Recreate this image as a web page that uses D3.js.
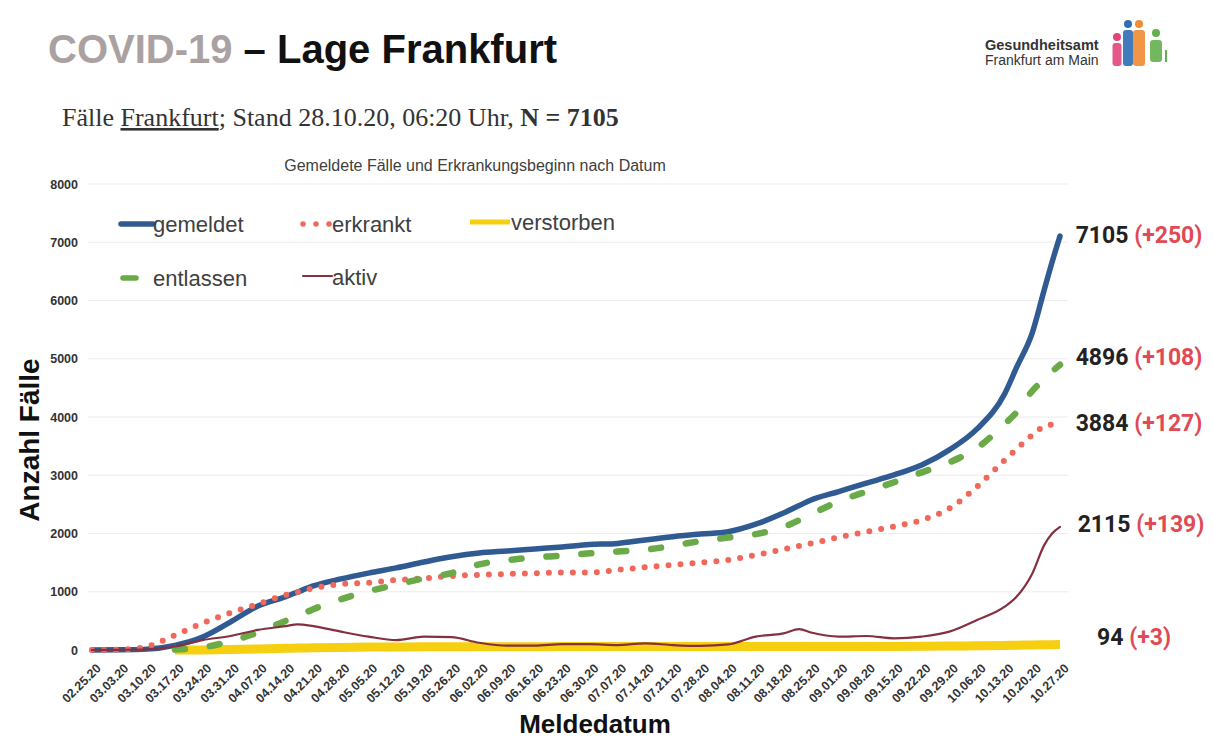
<!DOCTYPE html>
<html><head><meta charset="utf-8">
<script src="https://cdn.jsdelivr.net/npm/d3@7"></script>
<style>
html,body{margin:0;padding:0;background:#fff;}
svg{display:block;}
</style></head>
<body>
<svg id="chart" width="1213" height="741"></svg>
<script>
// ---- DATA ----
const dates = ["2020-02-25","2020-03-03","2020-03-10","2020-03-17","2020-03-24","2020-03-31","2020-04-07","2020-04-14","2020-04-17","2020-04-21","2020-04-28","2020-05-05","2020-05-12","2020-05-19","2020-05-26","2020-06-02","2020-06-09","2020-06-16","2020-06-23","2020-06-30","2020-07-07","2020-07-14","2020-07-21","2020-07-28","2020-08-04","2020-08-11","2020-08-18","2020-08-22","2020-08-25","2020-09-01","2020-09-08","2020-09-15","2020-09-22","2020-09-29","2020-10-06","2020-10-13","2020-10-16","2020-10-20","2020-10-23","2020-10-25","2020-10-27"];
const gemeldet   = [0,3,15,80,223,480,755,915,995,1100,1220,1320,1410,1510,1600,1665,1700,1735,1770,1810,1830,1890,1945,1990,2030,2160,2350,2480,2575,2720,2865,3005,3175,3435,3795,4400,4850,5450,6180,6660,7105];
const erkrankt   = [0,5,60,255,460,635,790,945,995,1060,1130,1155,1200,1230,1270,1290,1305,1315,1330,1330,1375,1420,1460,1500,1545,1630,1730,1785,1830,1935,2030,2120,2230,2430,2805,3260,3450,3690,3840,3870,3884];
const verstorben = [null,null,null,0,2,8,18,30,33,38,45,50,52,54,55,56,57,57,58,58,58,58,58,58,58,59,59,59,59,60,61,62,64,67,72,78,82,86,89,91,94];
const entlassen  = [null,null,null,8,45,150,300,500,580,700,870,1010,1120,1230,1320,1470,1540,1590,1620,1660,1690,1720,1790,1870,1930,1990,2110,2230,2330,2550,2720,2880,3050,3220,3470,3880,4080,4450,4650,4780,4896];
const aktiv      = [0,3,12,60,170,240,345,410,440,410,315,230,170,230,220,125,75,75,100,100,85,115,85,70,95,230,285,360,300,230,240,200,230,315,515,745,915,1315,1800,2000,2115];
const tickDates  = ["2020-02-25","2020-03-03","2020-03-10","2020-03-17","2020-03-24","2020-03-31","2020-04-07","2020-04-14","2020-04-21","2020-04-28","2020-05-05","2020-05-12","2020-05-19","2020-05-26","2020-06-02","2020-06-09","2020-06-16","2020-06-23","2020-06-30","2020-07-07","2020-07-14","2020-07-21","2020-07-28","2020-08-04","2020-08-11","2020-08-18","2020-08-25","2020-09-01","2020-09-08","2020-09-15","2020-09-22","2020-09-29","2020-10-06","2020-10-13","2020-10-20","2020-10-27"];
const yTicks = [0,1000,2000,3000,4000,5000,6000,7000,8000];
const seriesNames = ["gemeldet","erkrankt","verstorben","entlassen","aktiv"];
const endValues = [7105,4896,3884,2115,94];
const endDeltas = ["(+250)","(+108)","(+127)","(+139)","(+3)"];

// ---- SETUP ----
const svg = d3.select("#chart");
const parse = d3.timeParse("%Y-%m-%d");
const fmt = d3.timeFormat("%m.%d.%y");
const x = d3.scaleTime().domain([parse(dates[0]), parse(dates[dates.length-1])]).range([92,1060]);
const y = d3.scaleLinear().domain([0,8000]).range([650,184]);

// Titles
const t = svg.append("text").attr("x",48).attr("y",63)
  .style("font-family","Liberation Sans, Arial, sans-serif").style("font-weight","bold").style("font-size","40px");
t.append("tspan").attr("fill","#aaa2a2").text("COVID-19");
t.append("tspan").attr("fill","#111").text(" \u2013 Lage Frankfurt");

const st = svg.append("text").attr("x",62).attr("y",126)
  .style("font-family","Liberation Serif, Times New Roman, serif").style("font-size","26px").attr("fill","#333");
st.append("tspan").text("Fälle ");
st.append("tspan").style("text-decoration","underline").text("Frankfurt");
st.append("tspan").text("; Stand 28.10.20, 06:20 Uhr, ");
st.append("tspan").style("font-weight","bold").text("N = 7105");

// Logo
const lg = svg.append("g").style("font-family","Liberation Sans, Arial, sans-serif").attr("fill","#333");
lg.append("text").attr("x",985).attr("y",50).style("font-weight","bold").style("font-size","14.5px").text("Gesundheitsamt");
lg.append("text").attr("x",985).attr("y",65).style("font-size","14px").text("Frankfurt am Main");
const people = [
  {cx:1117,hy:37,top:43,bot:66,w:9,c:"#e0457c"},
  {cx:1128,hy:24,top:30,bot:66,w:10,c:"#2d6db5"},
  {cx:1139,hy:24,top:30,bot:66,w:12,c:"#f08a33"},
  {cx:1156,hy:33,top:40,bot:62,w:12,c:"#62b04d"}
];
people.forEach(p=>{
  lg.append("circle").attr("cx",p.cx).attr("cy",p.hy).attr("r",4).attr("fill",p.c);
  lg.append("rect").attr("x",p.cx-p.w/2).attr("y",p.top).attr("width",p.w).attr("height",p.bot-p.top).attr("rx",3).attr("fill",p.c).attr("opacity",0.9);
});
lg.append("rect").attr("x",1165).attr("y",50).attr("width",2).attr("height",12).attr("fill","#62b04d");

// Chart title
svg.append("text").attr("x",475).attr("y",171).attr("text-anchor","middle")
  .style("font-family","Liberation Sans, Arial, sans-serif").style("font-size","16px").attr("fill","#404040")
  .text("Gemeldete Fälle und Erkrankungsbeginn nach Datum");

// Grid
svg.append("g").selectAll("line").data(yTicks.filter(d=>d>0)).join("line")
  .attr("x1",88).attr("x2",1068).attr("y1",d=>y(d)).attr("y2",d=>y(d))
  .attr("stroke","#ececec").attr("stroke-width",1.2);

// Y axis
const yAxis = svg.append("g").attr("transform","translate(78,0)")
  .call(d3.axisLeft(y).tickValues(yTicks).tickSize(0).tickPadding(0).tickFormat(d3.format("d")));
yAxis.select(".domain").remove();
yAxis.selectAll("text").style("font-family","Liberation Sans, Arial, sans-serif").style("font-weight","bold")
  .style("font-size","12.5px").attr("fill","#333");

// X axis
const xAxis = svg.append("g").attr("transform","translate(0,650)")
  .call(d3.axisBottom(x).tickValues(tickDates.map(parse)).tickSize(0).tickFormat(fmt));
xAxis.select(".domain").remove();
xAxis.selectAll("text").attr("text-anchor","end").attr("dy",0)
  .attr("transform","translate(7,17) rotate(-45)")
  .style("font-family","Liberation Sans, Arial, sans-serif").style("font-weight","bold")
  .style("font-size","12.5px").attr("fill","#333");

// Axis titles
svg.append("text").attr("x",595).attr("y",733).attr("text-anchor","middle")
  .style("font-family","Liberation Sans, Arial, sans-serif").style("font-weight","bold").style("font-size","26px").attr("fill","#111")
  .text("Meldedatum");
svg.append("text").attr("transform","translate(39,440) rotate(-90)").attr("text-anchor","middle")
  .style("font-family","Liberation Sans, Arial, sans-serif").style("font-weight","bold").style("font-size","28px").attr("fill","#111")
  .text("Anzahl Fälle");

// Lines
const styles = {
  gemeldet:  {c:"#2f5b92", w:5.5, dash:null, cap:"round"},
  erkrankt:  {c:"#f0685c", w:6, dash:"0 12", cap:"round"},
  verstorben:{c:"#f5cf10", w:9, dash:null, cap:"butt"},
  entlassen: {c:"#6aaa48", w:6.5, dash:"10 25", cap:"round"},
  aktiv:     {c:"#84303f", w:2.2, dash:null, cap:"round"}
};
const seriesVals = {gemeldet, erkrankt, verstorben, entlassen, aktiv};
const line = d3.line().defined(d=>d.v!=null).x(d=>x(d.d)).y(d=>y(d.v)).curve(d3.curveMonotoneX);
seriesNames.forEach(name=>{
  const s = styles[name];
  const pts = dates.map((d,i)=>({d:parse(d), v:seriesVals[name][i]}));
  svg.append("path").datum(pts).attr("d",line).attr("fill","none")
    .attr("stroke",s.c).attr("stroke-width",s.w).attr("stroke-linecap",s.cap).attr("stroke-linejoin","round")
    .attr("stroke-dasharray",s.dash);
});

// Legend
const legend = [
  {name:"gemeldet", x1:121,x2:153, ly:224, tx:153, ty:232},
  {name:"erkrankt", x1:303,x2:330, ly:224, tx:332, ty:232},
  {name:"verstorben", x1:470,x2:510, ly:222, tx:511, ty:230},
  {name:"entlassen", x1:123,x2:136, ly:278, tx:153, ty:286},
  {name:"aktiv", x1:303,x2:332, ly:276, tx:332, ty:285}
];
const lgG = svg.append("g");
legend.forEach(l=>{
  const s = styles[l.name];
  lgG.append("line").attr("x1",l.x1).attr("x2",l.x2).attr("y1",l.ly).attr("y2",l.ly)
    .attr("stroke",s.c).attr("stroke-width",l.name==="verstorben"?5:Math.min(s.w,5.5)).attr("stroke-linecap",s.cap==="butt"?"butt":"round")
    .attr("stroke-dasharray",l.name==="erkrankt"?"0 13":null);
  lgG.append("text").attr("x",l.tx).attr("y",l.ty)
    .style("font-family","Liberation Sans, Arial, sans-serif").style("font-size","22px").attr("fill","#404040").text(l.name);
});

// End annotations
const nudges = [[-2,-1],[-2,-8],[-2,-1],[0,-3],[-7,-8]];
endValues.forEach((v,i)=>{
  const tx = svg.append("text").attr("x",1141+nudges[i][0]).attr("y",y(v)+nudges[i][1]).attr("dy","0.35em")
    .attr("text-anchor","middle").style("font-family","Roboto, sans-serif").style("font-weight","bold").style("font-size","23px");
  tx.append("tspan").attr("fill","#222").text(v+" ");
  tx.append("tspan").attr("fill","#e04a55").text(endDeltas[i]);
});
</script>
</body></html>
